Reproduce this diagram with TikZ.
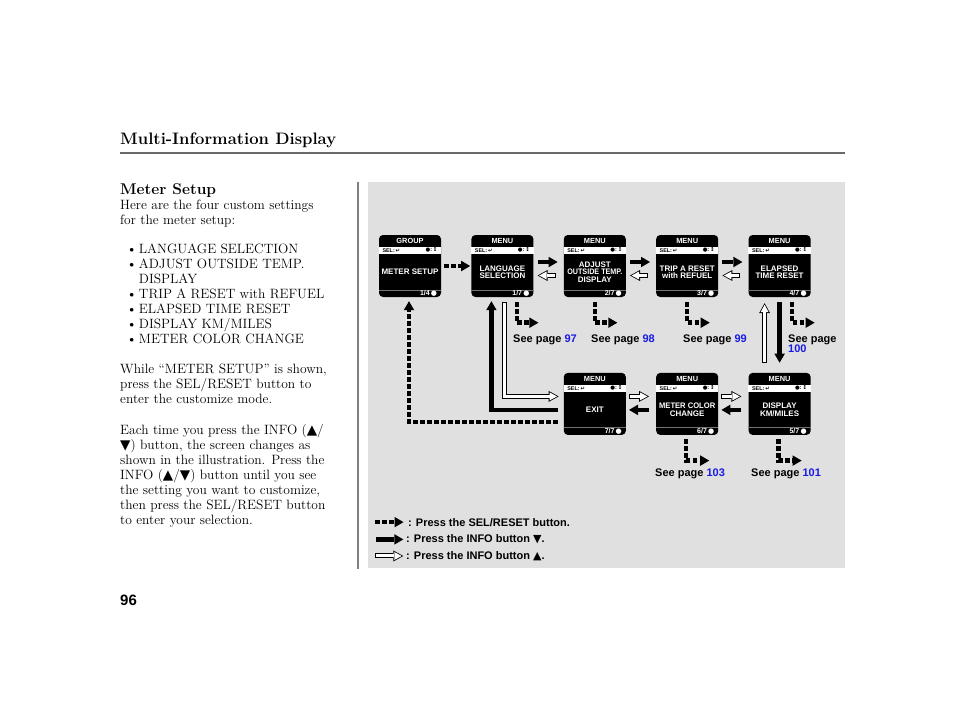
\documentclass[tikz,border=0pt]{standalone}
\usepackage{fontspec}
\newfontfamily\lcdfont{Liberation Sans}
\newfontfamily\symfont{DejaVu Sans}
\usepackage{tikz}
\usetikzlibrary{arrows.meta,positioning}
\definecolor{panel}{RGB}{224,224,224}
\definecolor{rulegray}{RGB}{105,105,105}
\definecolor{bargray}{RGB}{128,128,128}
\definecolor{pageblue}{RGB}{25,25,230}
\tikzset{
  lcd/.style={fill=black, rounded corners=4pt, minimum width=62pt, minimum height=62pt, inner sep=0pt},
  lcdhead/.style={text=white, font=\lcdfont\bfseries\fontsize{7.4}{8}\selectfont, inner sep=0pt},
  lcdsel/.style={text=black, font=\lcdfont\bfseries\fontsize{5.4}{6}\selectfont, inner sep=0pt},
  lcdtext/.style={text=white, font=\lcdfont\bfseries\fontsize{8}{7.4}\selectfont, align=center, inner sep=0pt},
  lcdpage/.style={text=white, font=\lcdfont\bfseries\fontsize{7}{7}\selectfont, inner sep=0pt},
  seepage/.style={font=\lcdfont\bfseries\fontsize{11}{10.4}\selectfont, inner sep=0pt, align=left},
  legend/.style={font=\lcdfont\bfseries\fontsize{11}{12}\selectfont, inner sep=0pt, anchor=base west},
  body/.style={font=\fontsize{13.5}{15}\selectfont, inner sep=0pt, anchor=north west, align=left},
  selarrow/.style={line width=4.5pt, dash pattern=on 4.5pt off 2.5pt,
              -{Triangle[length=9pt,width=10.5pt,line width=0pt]}},
  downarrow/.style={line width=4.5pt, -{Triangle[length=9pt,width=10.5pt,line width=0pt]}},
  uparrow/.style={line width=5pt, -{Triangle[length=10pt,width=11pt,line width=0pt]},
              postaction={draw=white, line width=3pt, -{Triangle[length=7.4pt,width=8pt,line width=0pt]},
                          shorten >=1.6pt, shorten <=1pt}},
}
% one display screen: name, placement, header, text, page
\newcommand{\lcdscreen}[5]{%
  \node[lcd, #2] (#1) {};
  \fill[white] ([yshift=-12pt]#1.north west) rectangle ([yshift=-19pt]#1.north east);
  \node[lcdhead] at ([yshift=-6pt]#1.north) {#3};
  \node[lcdsel, anchor=west] at ([xshift=3.5pt,yshift=-15.5pt]#1.north west) {SEL:\,{\symfont ↵}};
  \node[lcdsel, anchor=east] at ([xshift=-3.5pt,yshift=-15.5pt]#1.north east) {{\symfont ●}:\,{\symfont ↕}};
  \node[lcdtext] at ([yshift=-6pt]#1.center) {#4};
  \draw[black!55, line width=0.4pt] ([yshift=7.5pt]#1.south west) -- ([yshift=7.5pt]#1.south east);
  \node[lcdpage, anchor=south east] at ([xshift=-4pt,yshift=0.8pt]#1.south east) {#5\,{\symfont ●}};
}

\begin{document}
\begin{tikzpicture}[x=1pt, y=-1pt, node distance=30pt]
  \useasboundingbox (0,0) rectangle (960,714);
  \fill[white] (0,0) rectangle (960,714);

  % page text
  \node[anchor=base west, inner sep=0pt, font=\fontsize{16.6}{18}\selectfont\bfseries] (title) at (120,145) {Multi-Information Display};
  \draw[rulegray, line width=1.3pt] (120,153) -- (845,153);
  \node[anchor=base west, inner sep=0pt, font=\fontsize{15.5}{15}\selectfont\bfseries] (head) at (120,194.5) {Meter Setup};
  \node[body] (intro) at (120,200.1) {Here are the four custom settings\\for the meter setup:};
  \node[body] (items) at (126.5,243) {\begin{tabular}{@{}l@{\hspace{2pt}}l@{}}
    \textbullet & LANGUAGE SELECTION\\
    \textbullet & ADJUST OUTSIDE TEMP.\\
                & DISPLAY\\
    \textbullet & TRIP A RESET with REFUEL\\
    \textbullet & ELAPSED TIME RESET\\
    \textbullet & DISPLAY KM/MILES\\
    \textbullet & METER COLOR CHANGE
  \end{tabular}};
  \node[body] (while) at (120,364.1) {While “METER SETUP” is shown,\\press the SEL/RESET button to\\enter the customize mode.};
  \node[body] (each) at (120,424.1) {Each time you press the INFO ({\symfont ▲}/\\{\symfont ▼}) button, the screen changes as\\shown in the illustration. Press the\\INFO ({\symfont ▲}/{\symfont ▼}) button until you see\\the setting you want to customize,\\then press the SEL/RESET button\\to enter your selection.};
  \node[anchor=base west, inner sep=0pt, font=\lcdfont\bfseries\fontsize{15}{15}\selectfont] (pgno) at (120,605) {96};

  % illustration panel
  \fill[bargray] (357,182) rectangle (359.3,569);
  \fill[panel] (368,182) rectangle (845,568);

  \lcdscreen{group}{at={(410,266)}}{GROUP}{METER SETUP}{1/4}
  \lcdscreen{lang}{right=of group}{MENU}{LANGUAGE\\SELECTION}{1/7}
  \lcdscreen{adj}{right=of lang}{MENU}{ADJUST\\\scalebox{0.9}[1]{OUTSIDE TEMP.}\\DISPLAY}{2/7}
  \lcdscreen{trip}{right=of adj}{MENU}{TRIP A RESET\\with REFUEL}{3/7}
  \lcdscreen{elap}{right=of trip}{MENU}{ELAPSED\\TIME RESET}{4/7}
  \lcdscreen{exit}{below=75.5pt of adj}{MENU}{EXIT}{7/7}
  \lcdscreen{mcolor}{right=of exit}{MENU}{\scalebox{0.95}[1]{METER COLOR}\\CHANGE}{6/7}
  \lcdscreen{disp}{right=of mcolor}{MENU}{DISPLAY\\KM/MILES}{5/7}

  % top row
  \draw[selarrow] ([xshift=3pt]group.east) -- ([xshift=-1pt]lang.west);
  \draw[downarrow] ([xshift=4pt,yshift=4pt]lang.east) -- ([xshift=-6pt,yshift=4pt]adj.west);
  \draw[uparrow] ([xshift=-8pt,yshift=-9.5pt]adj.west) -- ([xshift=4pt,yshift=-9.5pt]lang.east);
  \draw[downarrow] ([xshift=4pt,yshift=4pt]adj.east) -- ([xshift=-6pt,yshift=4pt]trip.west);
  \draw[uparrow] ([xshift=-8pt,yshift=-9.5pt]trip.west) -- ([xshift=4pt,yshift=-9.5pt]adj.east);
  \draw[downarrow] ([xshift=4pt,yshift=4pt]trip.east) -- ([xshift=-6pt,yshift=4pt]elap.west);
  \draw[uparrow] ([xshift=-8pt,yshift=-9.5pt]elap.west) -- ([xshift=4pt,yshift=-9.5pt]trip.east);

  % right side
  \draw[uparrow] ([xshift=-15pt,yshift=10pt]disp.north) -- ([xshift=-15pt,yshift=-6pt]elap.south);
  \draw[downarrow] ([yshift=-5pt]elap.south) -- ([yshift=10pt]disp.north);

  % bottom row
  \draw[uparrow] ([xshift=3pt,yshift=7.5pt]exit.east) -- ([xshift=-7pt,yshift=7.5pt]mcolor.west);
  \draw[downarrow] ([xshift=-7pt,yshift=-6pt]mcolor.west) -- ([xshift=3pt,yshift=-6pt]exit.east);
  \draw[uparrow] ([xshift=3pt,yshift=7.5pt]mcolor.east) -- ([xshift=-7pt,yshift=7.5pt]disp.west);
  \draw[downarrow] ([xshift=-7pt,yshift=-6pt]disp.west) -- ([xshift=3pt,yshift=-6pt]mcolor.east);

  % back to the start
  \draw[uparrow] ([xshift=2pt,yshift=-5pt]lang.south) |- ([xshift=-5pt,yshift=7.5pt]exit.west);
  \draw[downarrow] ([xshift=-6pt,yshift=-6pt]exit.west) -| ([xshift=-11pt,yshift=-4pt]lang.south);
  \draw[selarrow] ([xshift=-6pt,yshift=-18pt]exit.west) -| ([xshift=-1pt,yshift=-4pt]group.south);

  % see page
  \draw[selarrow] ([xshift=14.5pt,yshift=-5pt]lang.south) |- ([xshift=36pt,yshift=-25.5pt]lang.south);
  \draw[selarrow] ([yshift=-5pt]adj.south) |- ([xshift=22.5pt,yshift=-25.5pt]adj.south);
  \draw[selarrow] ([yshift=-5pt]trip.south) |- ([xshift=22.5pt,yshift=-25.5pt]trip.south);
  \draw[selarrow] ([xshift=12.5pt,yshift=-5pt]elap.south) |- ([xshift=35pt,yshift=-25.5pt]elap.south);
  \draw[selarrow] ([xshift=-1pt,yshift=-4pt]mcolor.south) |- ([xshift=22pt,yshift=-25.5pt]mcolor.south);
  \draw[selarrow] ([xshift=-1pt,yshift=-4pt]disp.south) |- ([xshift=22pt,yshift=-25.5pt]disp.south);
  \node[seepage, anchor=base west] (sp97) at (513,342.3) {See page \textcolor{pageblue}{97}};
  \node[seepage, anchor=base west] (sp98) at (591,342.3) {See page \textcolor{pageblue}{98}};
  \node[seepage, anchor=base west] (sp99) at (683,342.3) {See page \textcolor{pageblue}{99}};
  \node[seepage, anchor=north west] (sp100) at (788,334.3) {See page\\\textcolor{pageblue}{100}};
  \node[seepage, anchor=base west] (sp103) at (655,476) {See page \textcolor{pageblue}{103}};
  \node[seepage, anchor=base west] (sp101) at (751,476) {See page \textcolor{pageblue}{101}};

  % legend
  \node[legend] (lgsel) at (408,526) {: Press the SEL/RESET button.};
  \node[legend] (lgdown) at (406,542.7) {: Press the INFO button {\symfont ▼}.};
  \node[legend] (lgup) at (406,559.3) {: Press the INFO button {\symfont ▲}.};
  \draw[selarrow] ([xshift=-33pt]lgsel.west) -- ([xshift=-4.5pt]lgsel.west);
  \draw[downarrow] ([xshift=-30pt]lgdown.west) -- ([xshift=-2.7pt]lgdown.west);
  \draw[uparrow] ([xshift=-31pt]lgup.west) -- ([xshift=-2.7pt]lgup.west);
\end{tikzpicture}
\end{document}
